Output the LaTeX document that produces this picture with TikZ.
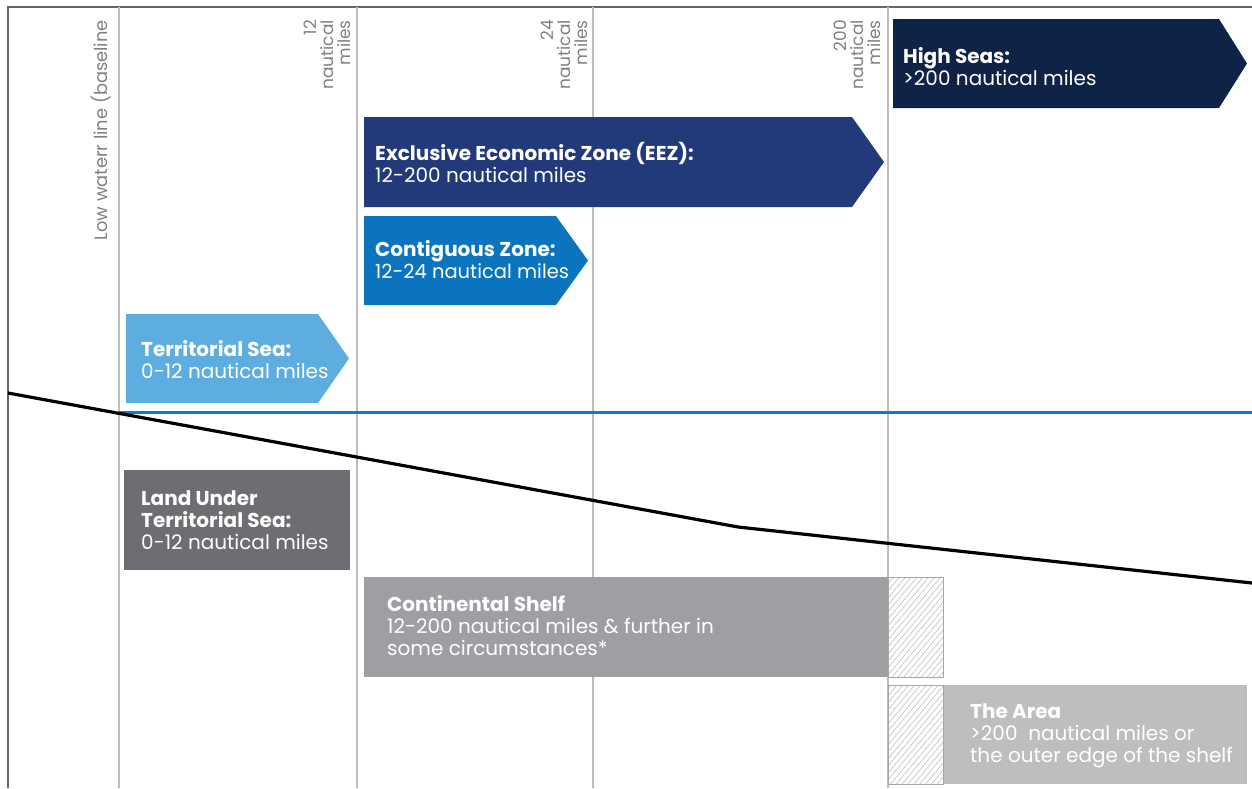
\documentclass[tikz,border=0pt]{standalone}
\usepackage{fontspec}
\setmainfont{Poppins}
\usetikzlibrary{patterns.meta}
\definecolor{highsea}{HTML}{0E2345}
\definecolor{eez}{HTML}{233A7A}
\definecolor{contig}{HTML}{0A75BE}
\definecolor{terr}{HTML}{5DADE0}
\definecolor{landts}{HTML}{6D6E71}
\definecolor{shelf}{HTML}{9D9FA2}
\definecolor{area}{HTML}{BCBEC0}
\definecolor{gridc}{HTML}{BDBDBD}
\definecolor{labc}{HTML}{808080}
\definecolor{sealine}{HTML}{1478C8}
\begin{document}
\begin{tikzpicture}[x=1pt,y=-1pt,
  boxtext/.style={text=white,anchor=north west,align=left,inner sep=0pt,font=\fontsize{20}{22.2}\selectfont},
  toplab/.style={text=labc,rotate=90,anchor=east,align=right,inner sep=0pt,font=\fontsize{17}{17}\selectfont},
  gridline/.style={draw=gridc,line width=1.2pt},
  hatchbox/.style={draw=gray!70,line width=0.6pt,pattern={Lines[angle=50,distance=4.5pt,line width=0.55pt]},pattern color=gray!55}
]
\useasboundingbox (0,0) rectangle (1252,788);
% frame
\draw[draw=gray!80!black,line width=1.6pt] (8,788) -- (8,7) -- (1252,7);
% grid lines
\foreach \x in {119,357,593,888} \draw[gridline] (\x,7) -- (\x,788);
% top labels
\node[toplab,font=\fontsize{17.8}{17}\selectfont] (lw) at (101,20) {Low waterr line (baseline};
\node[toplab] (l12) at (327,20) {12\\nautical\\miles};
\node[toplab] (l24) at (564,20) {24\\nautical\\miles};
\node[toplab] (l200) at (857,20) {200\\nautical\\miles};
% arrow boxes
\fill[highsea] (893,19) -- (1219,19) -- (1247,63.5) -- (1219,108) -- (893,108) -- cycle;
\fill[eez] (364,117) -- (852,117) -- (884,162) -- (852,207) -- (364,207) -- cycle;
\fill[contig] (364,216) -- (556,216) -- (588,260.5) -- (556,305) -- (364,305) -- cycle;
\fill[terr] (126,314) -- (318,314) -- (349,358.5) -- (318,403) -- (126,403) -- cycle;
% sea surface
\draw[sealine,line width=3pt] (119,412) -- (1252,412);
% seabed
\draw[black,line width=3.2pt] (8,393) -- (738,527) -- (1252,583);
% lower boxes
\fill[landts] (124,470) rectangle (350,570);
\fill[shelf] (364,577) rectangle (888,677);
\fill[area] (943,685) rectangle (1247,784);
\filldraw[hatchbox] (888,577) rectangle (943,677);
\filldraw[hatchbox] (888,685) rectangle (943,784);
% texts
\node[boxtext] (hs) at (903,47) {\textbf{High Seas:}\\>200 nautical miles};
\node[boxtext] (ez) at (375,142) {\textbf{Exclusive Economic Zone (EEZ):}\\12-200 nautical miles};
\node[boxtext] (cz) at (375,240) {\textbf{Contiguous Zone:}\\\fontsize{19.5}{22.2}\selectfont 12-24 nautical miles};
\node[boxtext] (ts) at (141,340) {\textbf{Territorial Sea:}\\0-12 nautical miles};
\node[boxtext] (lu) at (141,490) {\textbf{Land Under}\\\textbf{Territorial Sea:}\\0-12 nautical miles};
\node[boxtext] (cs) at (387,595) {\textbf{Continental Shelf}\\12-200 nautical miles \& further in\\some circumstances*};
\node[boxtext] (ta) at (970,703) {\textbf{The Area}\\>200\ \ nautical miles or\\the outer edge of the shelf};
\end{tikzpicture}
\end{document}
